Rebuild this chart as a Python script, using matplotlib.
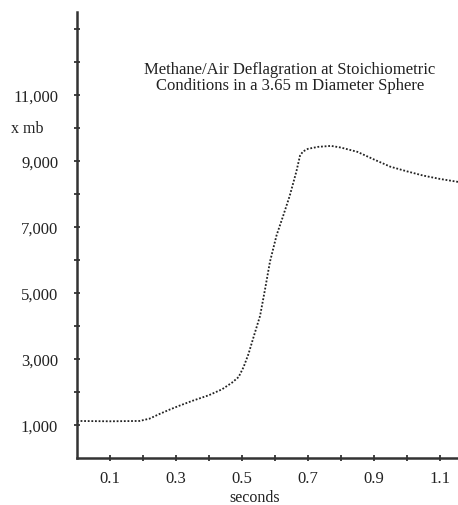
import matplotlib.pyplot as plt

# pressure trace
seconds = [0.0, 0.1, 0.19, 0.22, 0.25, 0.28, 0.31, 0.35, 0.40, 0.44, 0.47, 0.49,
           0.505, 0.52, 0.535, 0.555, 0.57, 0.585, 0.605, 0.625, 0.645, 0.665,
           0.676, 0.685, 0.70, 0.73, 0.77, 0.80, 0.85, 0.90, 0.95, 1.0, 1.05,
           1.10, 1.155]
pressure = [1120, 1110, 1120, 1190, 1330, 1460, 1580, 1730, 1900, 2080, 2280, 2450,
            2750, 3150, 3650, 4300, 5100, 5940, 6740, 7330, 7940, 8670,
            9150, 9280, 9360, 9420, 9450, 9400, 9270, 9040, 8820, 8680, 8550,
            8450, 8360]

y_ticks = [1000, 2000, 3000, 4000, 5000, 6000, 7000, 8000, 9000, 10000, 11000, 12000, 13000]
y_labels = ["1,000", "", "3,000", "", "5,000", "", "7,000", "", "9,000", "", "11,000", "", ""]
x_ticks = [0.1, 0.2, 0.3, 0.4, 0.5, 0.6, 0.7, 0.8, 0.9, 1.0, 1.1]
x_labels = ["0.1", "", "0.3", "", "0.5", "", "0.7", "", "0.9", "", "1.1"]

title = "Methane/Air Deflagration at Stoichiometric\nConditions in a 3.65 m Diameter Sphere"

plt.rcParams["font.family"] = "Liberation Serif"

fig = plt.figure(figsize=(4.58, 5.06), dpi=100)
ax = fig.add_axes([0.168, 0.093, 0.832, 0.881])

ax.plot(seconds, pressure, color="#222222", linestyle=(0, (1, 1)), linewidth=1.3)

ax.set_xlim(0, 1.155)
ax.set_ylim(0, 13500)
ax.set_yticks(y_ticks)
ax.set_yticklabels(y_labels)
ax.set_xticks(x_ticks)
ax.set_xticklabels(x_labels)

for side in ["top", "right"]:
    ax.spines[side].set_visible(False)
for side in ["left", "bottom"]:
    ax.spines[side].set_linewidth(1.8)
    ax.spines[side].set_color("#333333")

ax.tick_params(direction="inout", length=5, width=1.2, colors="#222222", labelsize=12)
ax.tick_params(axis="y", pad=11)
ax.tick_params(axis="x", pad=6)

ax.text(-0.2, 10000, "x mb", ha="left", va="center", fontsize=11.5, color="#222222")
ax.text(0.54, -1170, "seconds", ha="center", va="center", fontsize=11.5, color="#222222")
ax.text(0.645, 11550, title, ha="center", va="center", fontsize=12,
        color="#222222", linespacing=1.0)

fig.savefig("out.png", dpi=100)
